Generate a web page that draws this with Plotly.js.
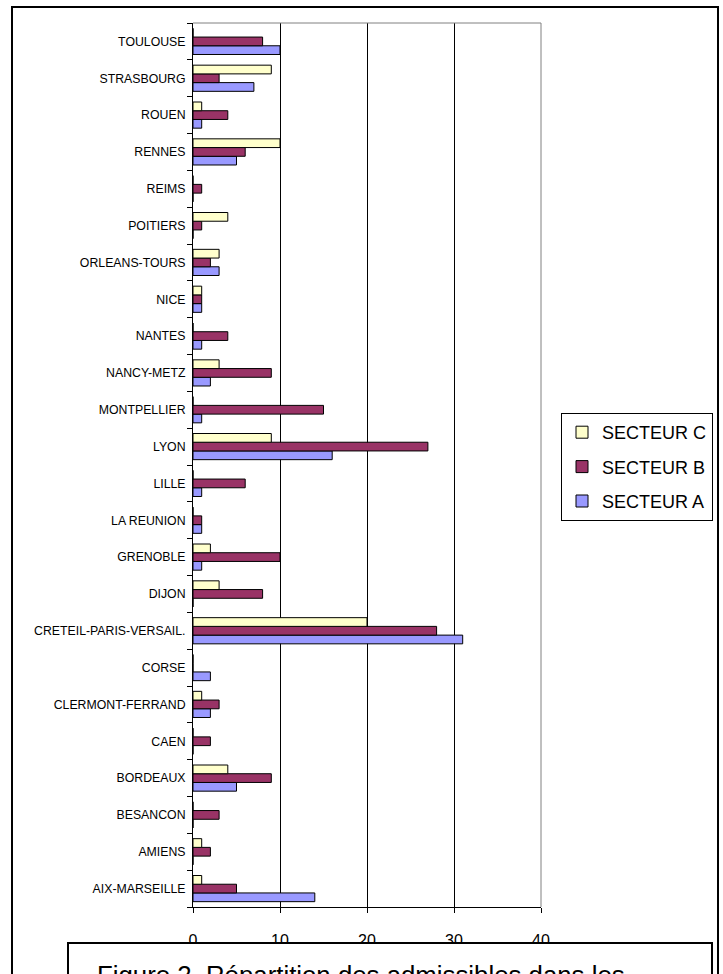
<!DOCTYPE html>
<html>
<head>
<meta charset="utf-8">
<script src="https://cdn.plot.ly/plotly-3.0.1.min.js"></script>
<style>
  html, body { margin: 0; padding: 0; background: #fff; }
  #wrap { position: relative; width: 723px; height: 974px; overflow: hidden; }
  #chart { position: absolute; left: 0; top: 0; width: 723px; height: 974px; }
  #frame { position: absolute; left: 11px; top: 6px; width: 704px; height: 1000px; border: 2px solid #000; pointer-events: none; }
  #caption { position: absolute; left: 67px; top: 942px; width: 642px; height: 100px; border: 2px solid #000; background: #fff;
             font-family: Arial, "Liberation Sans", sans-serif; font-size: 25.8px; color: #000; }
  #caption span { position: absolute; left: 28px; top: 16px; white-space: nowrap; line-height: 30px; }
</style>
</head>
<body>
<div id="wrap">
  <div id="chart"></div>
  <div id="frame"></div>
  <div id="caption"><span>Figure 2. Répartition des admissibles dans les</span></div>
</div>
<script>
const categories = ["AIX-MARSEILLE","AMIENS","BESANCON","BORDEAUX","CAEN","CLERMONT-FERRAND","CORSE",
  "CRETEIL-PARIS-VERSAIL.","DIJON","GRENOBLE","LA REUNION","LILLE","LYON","MONTPELLIER","NANCY-METZ",
  "NANTES","NICE","ORLEANS-TOURS","POITIERS","REIMS","RENNES","ROUEN","STRASBOURG","TOULOUSE"];
const secteurA = [14,0,0,5,0,2,2,31,0,1,1,1,16,1,2,1,1,3,0,0,5,1,7,10];
const secteurB = [5,2,3,9,2,3,0,28,8,10,1,6,27,15,9,4,1,2,1,1,6,4,3,8];
const secteurC = [1,1,0,4,0,1,0,20,3,2,0,0,9,0,3,0,1,3,4,0,10,1,9,0];
const xTicks = [0,10,20,30,40];

const font = "Arial, 'Liberation Sans', sans-serif";

function mk(name, vals, color, rank) {
  return { type: 'bar', orientation: 'h', name: name, y: categories, x: vals, legendgroup: name, legendrank: rank,
    marker: { color: color, line: { color: '#000', width: 1 } }, hoverinfo: 'x+y' };
}
const data = [
  mk('SECTEUR A', secteurA, '#9999FF', 3),
  mk('SECTEUR B', secteurB, '#993366', 2),
  mk('SECTEUR C', secteurC, '#FFFFCC', 1)
];
const layout = {
  width: 723, height: 974,
  margin: { l: 193, r: 182, t: 23, b: 67, pad: 0 },
  paper_bgcolor: '#fff', plot_bgcolor: '#fff',
  font: { family: font, color: '#000' },
  barmode: 'group', bargap: 0.29, bargroupgap: 0,
  showlegend: true,
  legend: { xref: 'container', yref: 'container', x: 561 / 723, y: 1 - 413 / 974, xanchor: 'left', yanchor: 'top',
    traceorder: 'grouped', tracegroupgap: 8,
    bordercolor: '#000', borderwidth: 1, bgcolor: '#fff', itemwidth: 30,
    font: { size: 18, family: font } },
  xaxis: { range: [0, 40], tickvals: xTicks, ticktext: xTicks.map(String), showgrid: true, gridcolor: '#000', gridwidth: 1,
    zeroline: false, showline: true, linecolor: '#000', linewidth: 1, ticks: 'outside', ticklen: 5, tickcolor: '#000',
    tickfont: { size: 16, family: font }, ticklabelstandoff: 14, fixedrange: true, automargin: false },
  yaxis: { type: 'category', categoryorder: 'array', categoryarray: categories, tickson: 'boundaries',
    showgrid: false, zeroline: false, showline: true, linecolor: '#000', linewidth: 1, ticks: 'outside', ticklen: 5,
    tickcolor: '#000', tickfont: { size: 12.3, family: font }, ticklabelstandoff: 4, fixedrange: true, automargin: false },
  shapes: [
    { type: 'line', xref: 'paper', yref: 'paper', x0: 0, x1: 1, y0: 1, y1: 1, line: { color: '#808080', width: 1 }, layer: 'above' },
    { type: 'line', xref: 'paper', yref: 'paper', x0: 1, x1: 1, y0: 0, y1: 1, line: { color: '#808080', width: 1 }, layer: 'above' }
  ]
};
Plotly.newPlot('chart', data, layout, { displayModeBar: false, staticPlot: true });
</script>
</body>
</html>
